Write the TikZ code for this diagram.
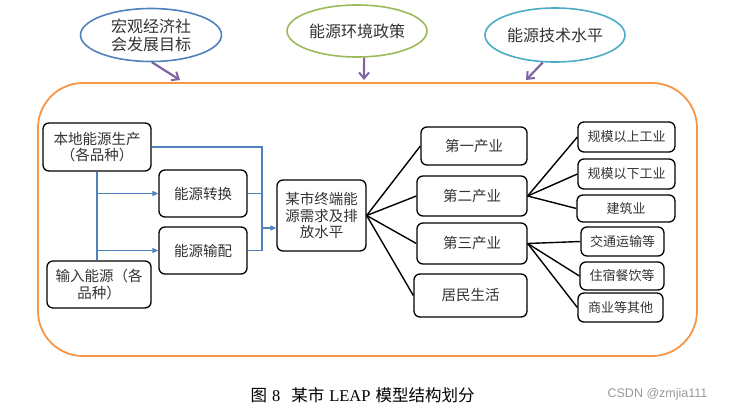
\documentclass[tikz,border=0pt]{standalone}
\usepackage{fontspec}
\setmainfont{Liberation Serif}
\setsansfont{Liberation Sans}
\newfontfamily\cjk{Noto Sans CJK SC}
\usetikzlibrary{shapes.geometric,arrows.meta}
\definecolor{eblue}{HTML}{4F81BD}
\definecolor{egreen}{HTML}{9BBB59}
\definecolor{ecyan}{HTML}{4BACC6}
\definecolor{epurple}{HTML}{8064A2}
\definecolor{eorange}{HTML}{F79646}
\definecolor{txt}{HTML}{333333}
\tikzset{
  goal/.style={ellipse, draw, line width=1.6pt, inner sep=0pt, align=center, text=txt,
    font=\cjk\fontsize{16}{18}\selectfont},
  box/.style={draw=black, line width=1.3pt, rounded corners=6pt, inner sep=0pt, align=center,
    text=txt, font=\cjk\fontsize{14.5}{16.5}\selectfont},
  smallbox/.style={box, font=\cjk\fontsize{13}{15}\selectfont},
  frame/.style={draw=eorange, line width=1.8pt, rounded corners=45pt, inner sep=0pt},
  parrow/.style={draw=epurple, line width=2.2pt, -{Straight Barb[length=6pt,width=10pt,line width=2pt]}},
  bl/.style={draw=eblue, line width=1.3pt},
  blarrow/.style={bl, -{Triangle[length=6pt,width=5pt]}},
  bk/.style={draw=black, line width=1.4pt}
}
\begin{document}
\begin{tikzpicture}[x=1pt,y=-1pt]
\useasboundingbox (0,0) rectangle (744,407);

% outer frame
\node[frame, minimum width=659pt, minimum height=273pt] (frame) at (367.5,219.5) {};

% goal ellipses
\node[goal, draw=eblue, minimum width=141pt, minimum height=53pt] (e1) at (151,35) {宏观经济社\\会发展目标};
\node[goal, draw=egreen, minimum width=140pt, minimum height=52pt] (e2) at (357,31) {能源环境政策};
\node[goal, draw=ecyan, minimum width=140pt, minimum height=54pt] (e3) at (555,35) {能源技术水平};

\coordinate (t1) at (180,80);
\coordinate (t2) at (364,80);
\coordinate (t3) at (526,80);
\draw[parrow] (e1.-88) -- (t1);
\draw[parrow] (e2.-75) -- (t2);
\draw[parrow] (e3.-114) -- (t3);

% left part
\node[box, minimum width=108pt, minimum height=48pt] (local) at (97,147) {本地能源生产\\（各品种）};
\node[box, minimum width=88pt, minimum height=47pt] (conv) at (203,193.5) {能源转换};
\node[box, minimum width=88pt, minimum height=47pt] (dist) at (203,250.5) {能源输配};
\node[box, minimum width=104pt, minimum height=47pt] (import) at (99,284.5) {输入能源（各\\品种）};
\node[box, minimum width=89pt, minimum height=71pt] (city) at (321.5,215.5) {某市终端能\\源需求及排\\放水平};

% sectors
\node[box, minimum width=106pt, minimum height=38pt] (s1) at (474,146) {第一产业};
\node[box, minimum width=110pt, minimum height=40pt] (s2) at (472,196) {第二产业};
\node[box, minimum width=110pt, minimum height=41pt] (s3) at (472,243.5) {第三产业};
\node[box, minimum width=113pt, minimum height=43pt] (res) at (470.5,295.5) {居民生活};

% sub sectors
\node[smallbox, minimum width=97pt, minimum height=30pt] (a1) at (626.5,137) {规模以上工业};
\node[smallbox, minimum width=97pt, minimum height=30pt] (a2) at (626.5,174) {规模以下工业};
\node[smallbox, minimum width=98pt, minimum height=27pt] (a3) at (626,208.5) {建筑业};
\node[smallbox, minimum width=83pt, minimum height=29pt] (b1) at (622.5,241.5) {交通运输等};
\node[smallbox, minimum width=84pt, minimum height=28pt] (b2) at (622,276) {住宿餐饮等};
\node[smallbox, minimum width=85pt, minimum height=29pt] (b3) at (620.5,307.5) {商业等其他};

% blue connectors
\coordinate (bx) at (262,228);
\draw[bl] (local.east) -| (bx);
\draw[bl] (conv.east) -- (conv.east -| bx);
\draw[bl] (dist.east) -| (bx);
\draw[blarrow] (bx) -- (bx -| city.west);
\draw[bl] (local.south) -- (local.south |- import.north);
\draw[blarrow] (local.south |- conv.west) -- (conv.west);
\draw[blarrow] (local.south |- dist.west) -- (dist.west);

% black connectors
\draw[bk] (city.east) -- (s1.west);
\draw[bk] (city.east) -- (s2.west);
\draw[bk] (city.east) -- (s3.west);
\draw[bk] (city.east) -- (res.west);
\draw[bk] (s2.east) -- (a1.west);
\draw[bk] (s2.east) -- (a2.west);
\draw[bk] (s2.east) -- (a3.west);
\draw[bk] (s3.east) -- (b1.west);
\draw[bk] (s3.east) -- (b2.west);
\draw[bk] (s3.east) -- (b3.west);

% caption
\node[font=\fontsize{16.5}{18}\selectfont, text=black, inner sep=0pt] (cap) at (362.5,395) {{\cjk 图}\hspace{5pt}8\hspace{11pt}{\cjk 某市}\hspace{5pt}LEAP\hspace{5pt}{\cjk 模型结构划分}};
\node[font=\sffamily\fontsize{12.5}{14}\selectfont, text=black!40, inner sep=0pt] (wm) at (657.5,394) {CSDN @zmjia111};
\end{tikzpicture}
\end{document}
